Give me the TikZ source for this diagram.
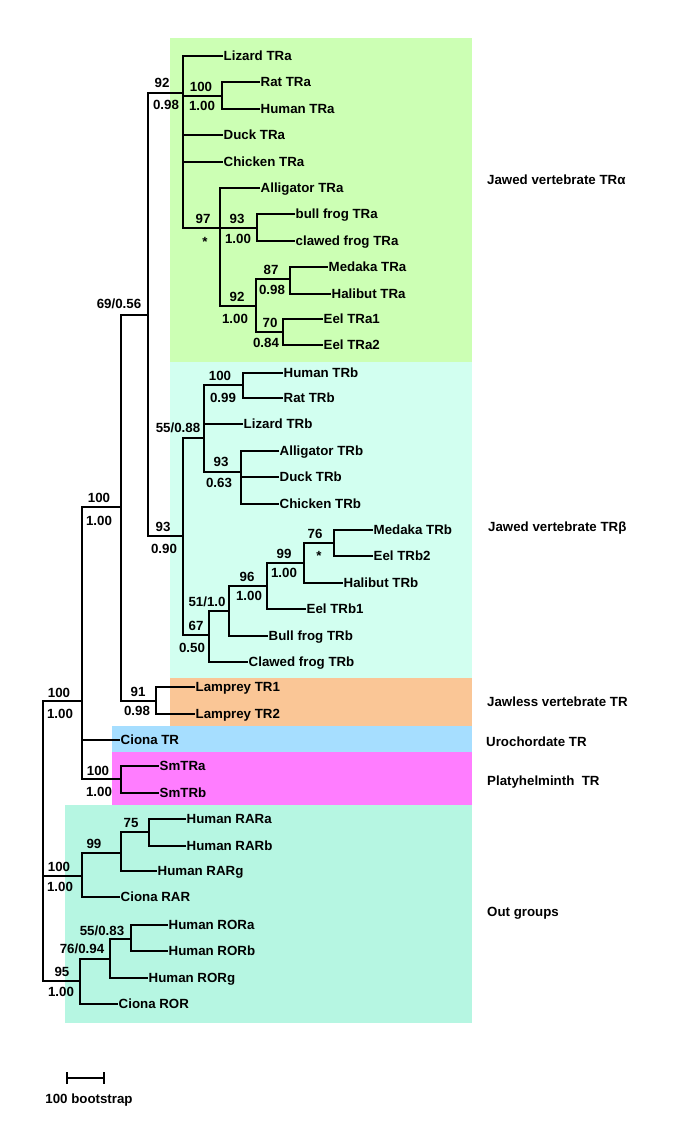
\documentclass[tikz,border=0pt]{standalone}
\usepackage{fontspec}
\setmainfont{Liberation Sans}
\usepackage{tikz}
\usetikzlibrary{arrows.meta}
\definecolor{jawA}{HTML}{CCFFB4}
\definecolor{jawB}{HTML}{D2FFF0}
\definecolor{jawless}{HTML}{FAC696}
\definecolor{uroch}{HTML}{A6DEFF}
\definecolor{platy}{HTML}{FF7DFF}
\definecolor{outgrp}{HTML}{B6F6E2}

\begin{document}
\begin{tikzpicture}[x=1pt,y=-1pt,font=\fontsize{13.3}{16}\selectfont\bfseries,br/.style={line width=1.9pt},leaf/.style={anchor=west, inner xsep=0.5pt, inner ysep=0pt, text height=9.5pt, text depth=0pt},bs/.style={inner sep=0pt, text height=9.5pt, text depth=0pt},grp/.style={anchor=west, inner sep=0pt, text height=9.5pt, text depth=0pt}]
\useasboundingbox (0,0) rectangle (685,1131);
\fill[jawA] (170,38) rectangle (472,362);
\fill[jawB] (170,362) rectangle (472,678);
\fill[jawless] (170,678) rectangle (472,726);
\fill[uroch] (112,726) rectangle (472,752);
\fill[platy] (112,752) rectangle (472,805);
\fill[outgrp] (65,805) rectangle (472,1023);
\coordinate (root) at (43,841); \coordinate (tr) at (82,701); \coordinate (s100) at (121,507); \coordinate (n69) at (148,315);
\coordinate (nA) at (183,93); \coordinate (ratHum) at (222,96); \coordinate (n97) at (220,228); \coordinate (frogA) at (257,228);
\coordinate (fishA) at (256,306); \coordinate (n87) at (290,279); \coordinate (eelA) at (283,332);
\coordinate (nB) at (183,536); \coordinate (n55) at (204,438); \coordinate (mamB) at (243,385); \coordinate (birdB) at (241,472);
\coordinate (n67) at (209,635); \coordinate (n51) at (229,611); \coordinate (n96) at (267,586); \coordinate (n99) at (304,563); \coordinate (n76) at (334,543);
\coordinate (lam) at (156,701); \coordinate (sm) at (121,779);
\coordinate (rar) at (82,876); \coordinate (n99o) at (121,853); \coordinate (n75) at (149,832);
\coordinate (ror) at (80,981); \coordinate (n76o) at (110,959); \coordinate (n55o) at (131,939);
\node[leaf] (lizA) at (223,56) {Lizard TRa};
\node[leaf] (ratA) at (260,82) {Rat TRa};
\node[leaf] (humA) at (260,109) {Human TRa};
\node[leaf] (duckA) at (223,135) {Duck TRa};
\node[leaf] (chickA) at (223,162) {Chicken TRa};
\node[leaf] (allA) at (260,188) {Alligator TRa};
\node[leaf] (bullA) at (295,214) {bull frog TRa};
\node[leaf] (clawA) at (295,241) {clawed frog TRa};
\node[leaf] (medA) at (328,267) {Medaka TRa};
\node[leaf] (halA) at (331,294) {Halibut TRa};
\node[leaf] (eelA1) at (323,319) {Eel TRa1};
\node[leaf] (eelA2) at (323,345) {Eel TRa2};
\node[leaf] (humB) at (283,373) {Human TRb};
\node[leaf] (ratB) at (283,398) {Rat TRb};
\node[leaf] (lizB) at (243,424) {Lizard TRb};
\node[leaf] (allB) at (279,451) {Alligator TRb};
\node[leaf] (duckB) at (279,477) {Duck TRb};
\node[leaf] (chickB) at (279,504) {Chicken TRb};
\node[leaf] (medB) at (373,530) {Medaka TRb};
\node[leaf] (eelB2) at (373,556) {Eel TRb2};
\node[leaf] (halB) at (343,583) {Halibut TRb};
\node[leaf] (eelB1) at (306,609) {Eel TRb1};
\node[leaf] (bullB) at (268,636) {Bull frog TRb};
\node[leaf] (clawB) at (248,662) {Clawed frog TRb};
\node[leaf] (lam1) at (195,687) {Lamprey TR1};
\node[leaf] (lam2) at (195,714) {Lamprey TR2};
\node[leaf] (cioTR) at (120,740) {Ciona TR};
\node[leaf] (smA) at (159,766) {SmTRa};
\node[leaf] (smB) at (159,793) {SmTRb};
\node[leaf] (rara) at (186,819) {Human RARa};
\node[leaf] (rarb) at (186,846) {Human RARb};
\node[leaf] (rarg) at (157,871) {Human RARg};
\node[leaf] (cioRAR) at (120,897) {Ciona RAR};
\node[leaf] (rora) at (168,925) {Human RORa};
\node[leaf] (rorb) at (168,951) {Human RORb};
\node[leaf] (rorg) at (148,978) {Human RORg};
\node[leaf] (cioROR) at (118,1004) {Ciona ROR};
\draw[br] (root) |- (tr); \draw[br] (root) |- (rar); \draw[br] (root) |- (ror);
\draw[br] (tr) |- (s100); \draw[br] (tr) |- (cioTR); \draw[br] (tr) |- (sm);
\draw[br] (s100) |- (n69); \draw[br] (s100) |- (lam);
\draw[br] (n69) |- (nA); \draw[br] (n69) |- (nB);
\draw[br] (nA) |- (lizA); \draw[br] (nA) |- (ratHum); \draw[br] (nA) |- (duckA); \draw[br] (nA) |- (chickA); \draw[br] (nA) |- (n97);
\draw[br] (ratHum) |- (ratA); \draw[br] (ratHum) |- (humA);
\draw[br] (n97) |- (allA); \draw[br] (n97) |- (frogA); \draw[br] (n97) |- (fishA);
\draw[br] (frogA) |- (bullA); \draw[br] (frogA) |- (clawA);
\draw[br] (fishA) |- (n87); \draw[br] (fishA) |- (eelA);
\draw[br] (n87) |- (medA); \draw[br] (n87) |- (halA);
\draw[br] (eelA) |- (eelA1); \draw[br] (eelA) |- (eelA2);
\draw[br] (nB) |- (n55); \draw[br] (nB) |- (n67);
\draw[br] (n55) |- (mamB); \draw[br] (n55) |- (lizB); \draw[br] (n55) |- (birdB);
\draw[br] (mamB) |- (humB); \draw[br] (mamB) |- (ratB);
\draw[br] (birdB) |- (allB); \draw[br] (birdB) |- (duckB); \draw[br] (birdB) |- (chickB);
\draw[br] (n67) |- (n51); \draw[br] (n67) |- (clawB);
\draw[br] (n51) |- (n96); \draw[br] (n51) |- (bullB);
\draw[br] (n96) |- (n99); \draw[br] (n96) |- (eelB1);
\draw[br] (n99) |- (n76); \draw[br] (n99) |- (halB);
\draw[br] (n76) |- (medB); \draw[br] (n76) |- (eelB2);
\draw[br] (lam) |- (lam1); \draw[br] (lam) |- (lam2);
\draw[br] (sm) |- (smA); \draw[br] (sm) |- (smB);
\draw[br] (rar) |- (n99o); \draw[br] (rar) |- (cioRAR);
\draw[br] (n99o) |- (n75); \draw[br] (n99o) |- (rarg);
\draw[br] (n75) |- (rara); \draw[br] (n75) |- (rarb);
\draw[br] (ror) |- (n76o); \draw[br] (ror) |- (cioROR);
\draw[br] (n76o) |- (n55o); \draw[br] (n76o) |- (rorg);
\draw[br] (n55o) |- (rora); \draw[br] (n55o) |- (rorb);
\node[bs] (bA) at (162,83) {92}; \node[bs] (pA) at (166,105) {0.98};
\node[bs] (bRH) at (201,87) {100}; \node[bs] (pRH) at (202,106) {1.00};
\node[bs] (b97) at (203,219) {97}; \node[bs] (p97) at (205,242) {*};
\node[bs] (bFA) at (237,219) {93}; \node[bs] (pFA) at (238,239) {1.00};
\node[bs] (b87) at (271,270) {87}; \node[bs] (p87) at (272,290) {0.98};
\node[bs] (bFi) at (237,297) {92}; \node[bs] (pFi) at (235,319) {1.00};
\node[bs] (b70) at (270,323) {70}; \node[bs] (p70) at (266,343) {0.84};
\node[bs] (b69) at (119,304) {69/0.56};
\node[bs] (bMB) at (220,376) {100}; \node[bs] (pMB) at (223,398) {0.99};
\node[bs] (b55) at (178,428) {55/0.88};
\node[bs] (bBB) at (221,462) {93}; \node[bs] (pBB) at (219,483) {0.63};
\node[bs] (b100) at (99,498) {100}; \node[bs] (p100) at (99,521) {1.00};
\node[bs] (bB) at (163,527) {93}; \node[bs] (pB) at (164,549) {0.90};
\node[bs] (b76) at (315,534) {76}; \node[bs] (p76) at (319,556) {*};
\node[bs] (b99) at (284,554) {99}; \node[bs] (p99) at (284,573) {1.00};
\node[bs] (b96) at (247,577) {96}; \node[bs] (p96) at (249,596) {1.00};
\node[bs] (b51) at (207,602) {51/1.0};
\node[bs] (b67) at (196,626) {67}; \node[bs] (p67) at (192,648) {0.50};
\node[bs] (bLam) at (138,692) {91}; \node[bs] (pLam) at (137,711) {0.98};
\node[bs] (bTR) at (59,693) {100}; \node[bs] (pTR) at (60,714) {1.00};
\node[bs] (bSm) at (98,771) {100}; \node[bs] (pSm) at (99,792) {1.00};
\node[bs] (b75) at (131,823) {75};
\node[bs] (b99o) at (94,844) {99};
\node[bs] (bRAR) at (59,867) {100}; \node[bs] (pRAR) at (60,887) {1.00};
\node[bs] (b55o) at (102,931) {55/0.83};
\node[bs] (b76o) at (82,949) {76/0.94};
\node[bs] (bROR) at (62,972) {95}; \node[bs] (pROR) at (61,992) {1.00};
\node[grp] (gA) at (487,180) {Jawed vertebrate TRα};
\node[grp] (gB) at (488,527) {Jawed vertebrate TRβ};
\node[grp] (gL) at (487,702) {Jawless vertebrate TR};
\node[grp] (gU) at (486,742) {Urochordate TR};
\node[grp] (gP) at (487,781) {Platyhelminth\ \ TR};
\node[grp] (gO) at (487,912) {Out groups};
\coordinate (sbL) at (66,1078); \coordinate (sbR) at (105,1078);
\draw[line width=1.9pt, {Bar[width=12pt,line width=1.9pt]}-{Bar[width=12pt,line width=1.9pt]}] (sbL) -- (sbR);
\node[bs] (sbT) at (89,1099) {100 bootstrap};
\end{tikzpicture}
\end{document}
